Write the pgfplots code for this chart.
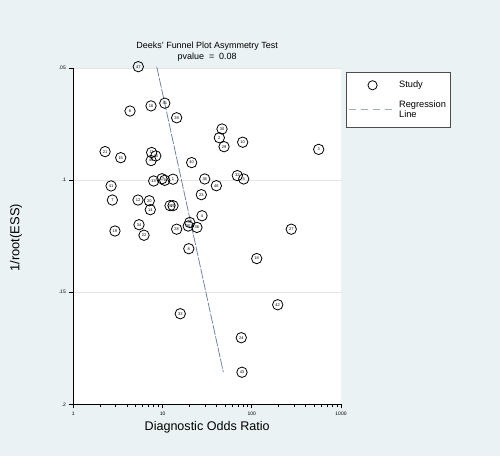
\documentclass[border=0pt]{standalone}
\usepackage{pgfplots}
\pgfplotsset{compat=1.18}
\usepackage{fontspec}
\setmainfont{Liberation Sans}
\definecolor{bgc}{RGB}{234,242,243}
\definecolor{regc}{RGB}{105,128,160}
\begin{document}
\begin{tikzpicture}
\useasboundingbox (0,0) rectangle (500bp,463bp);
\fill[white] (0,0) rectangle (500bp,463bp);
\fill[bgc] (0,7bp) rectangle (500bp,463bp);
\begin{axis}[
  at={(73.3bp,58.7bp)}, anchor=south west,
  width=267.7bp, height=336.3bp, scale only axis,
  xmode=log, xmin=1, xmax=1000,
  y coord trafo/.code={\pgfmathparse{-(#1)}},
  y coord inv trafo/.code={\pgfmathparse{-(#1)}},
  ymin=0.2, ymax=0.05,
  xtick={1,10,100,1000}, xticklabels={1,10,100,1000},
  ytick={0.05,0.1,0.15,0.2}, yticklabels={.05,.1,.15,.2},
  minor tick num=0,
  axis x line*=bottom, axis y line*=left,
  axis line style={-, line width=0.9bp, black},
  tick style={line width=0.8bp, black},
  tick align=outside, major tick length=4bp,
  ymajorgrids, grid style={line width=0.5bp, black!10},
  axis background/.style={fill=white},
  /pgf/number format/assume math mode=true,
  ticklabel style={font=\fontsize{5}{5}\selectfont},
  clip=false,
  title={Deeks' Funnel Plot Asymmetry Test\\pvalue \ =\ \ 0.08},
  title style={at={(rel axis cs:0.5,1)}, yshift=10.5bp, anchor=center, align=center, font=\fontsize{9}{11.7}\selectfont},
  xlabel={Diagnostic Odds Ratio},
  ylabel={1/root(ESS)},
  every axis x label/.style={at={(rel axis cs:0.5,0)}, yshift=-23.4bp, anchor=center, font=\fontsize{12.6}{13}\selectfont},
  every axis y label/.style={at={(rel axis cs:0,0.495)}, xshift=-57.3bp, rotate=90, anchor=center, font=\fontsize{13}{13}\selectfont},
  legend style={at={(rel axis cs:1.0176,0.987)}, anchor=north west, draw=black!70, line width=0.6bp, fill=white,
    font=\fontsize{9.3}{10.5}\selectfont, inner xsep=2bp, inner ysep=6.5bp, row sep=7bp,
    cells={align=left}},
  legend cell align=left,
]
\addplot[only marks, mark=o, mark size=5.2bp, mark options={line width=0.8bp, black},
  nodes near coords, point meta=explicit symbolic, nodes near coords align={center},
  every node near coord/.append style={font=\fontsize{4}{4}\selectfont, anchor=center, inner sep=0pt, black},
  legend image code/.code={\draw[line width=0.8bp, black] (27bp,0) circle (4.6bp);}]
  table[x=x, y=y, meta=lab] {
x y lab
5.35 0.0494 47
7.43 0.0669 16
10.6 0.0657 31
4.32 0.0692 6
14.4 0.0722 39
46.4 0.0772 30
43.3 0.0811 2
48.9 0.0851 29
79.1 0.0831 10
562 0.0863 3
2.27 0.0873 21
3.40 0.0900 15
7.55 0.0877 11
8.40 0.0892 45
7.45 0.0913 44
21.2 0.0922 40
68.9 0.0980 32
81.2 0.0995 5
29.7 0.0995 38
40.1 0.1025 46
27.2 0.1065 23
27.7 0.1159 4
2.65 0.1026 41
7.96 0.1004 13
9.86 0.0994 17
10.58 0.1001 9
13.1 0.0996 1
2.74 0.1089 7
5.31 0.1089 12
7.11 0.1092 20
7.29 0.1132 14
12.13 0.1114 26
13.1 0.1114 25
20.2 0.1189 37
19.4 0.1205 35
24.3 0.1211 36
14.4 0.1219 28
5.45 0.1199 34
6.20 0.1246 22
2.93 0.1227 19
19.7 0.1306 8
277 0.1219 27
113.6 0.1350 18
195.3 0.1556 42
15.8 0.1596 33
76.3 0.1703 24
77.7 0.1857 43
};
\addlegendentry{Study}
\addplot[regc, line width=0.75bp, dash pattern=on 10bp off 1.5bp,
  legend image code/.code={\draw[regc!65, line width=1.1bp, dash pattern=on 7bp off 5bp] (3bp,0) -- (51bp,0);}]
  coordinates {(8.61,0.0494) (48.0,0.1857)};
\addlegendentry{Regression\\Line}
\end{axis}
\end{tikzpicture}
\end{document}
